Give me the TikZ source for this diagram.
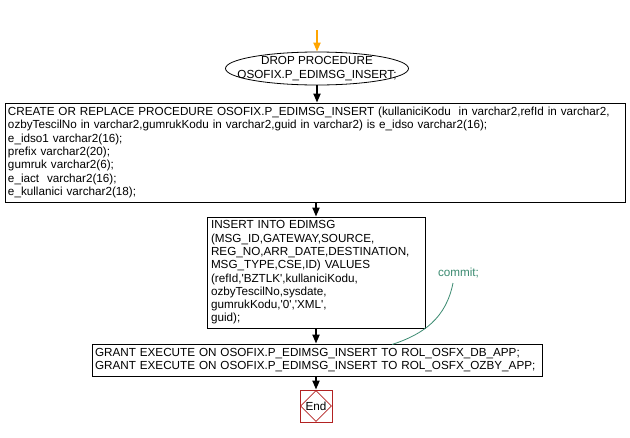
\documentclass[tikz,border=0pt]{standalone}
\usepackage{fontspec}
\newfontfamily\arialf{Liberation Sans}
\usetikzlibrary{arrows.meta,shapes.geometric}
\definecolor{commitc}{HTML}{3A8A70}
\definecolor{endred}{HTML}{B22222}
\definecolor{startor}{HTML}{FFA500}
\begin{document}
\begin{tikzpicture}[x=1pt,y=-1pt,
  every node/.style={font=\arialf\fontsize{11.7}{13.3}\selectfont},
  procbox/.style={draw=black,line width=0.8pt,rectangle,align=left,inner ysep=0pt},
  flow/.style={draw=black,line width=1.8pt,-{Triangle[width=7pt,length=9pt]}},
  startarrow/.style={draw=startor,line width=1.8pt,-{Triangle[width=7pt,length=9pt]}}]
\useasboundingbox (0,0) rectangle (630,437);
\coordinate (s) at (317,30);
\node[ellipse,draw=black,line width=0.8pt,minimum width=183pt,minimum height=33pt,inner sep=0pt] (drop) at (317,68.5) {};
\node[inner sep=0pt,align=center] (droptext) at (drop.center) {DROP PROCEDURE\\OSOFIX.P\_EDIMSG\_INSERT;};
\node[procbox,text width=614pt,inner xsep=3pt,minimum height=99pt] (create) at (315,152.5) {CREATE OR REPLACE PROCEDURE OSOFIX.P\_EDIMSG\_INSERT (kullaniciKodu\ \ in varchar2,refId in varchar2,\\
ozbyTescilNo in varchar2,gumrukKodu in varchar2,guid in varchar2) is e\_idso varchar2(16);\\
e\_idso1 varchar2(16);\\
prefix varchar2(20);\\
gumruk varchar2(6);\\
e\_iact\ \ varchar2(16);\\
e\_kullanici varchar2(18);};
\node[procbox,text width=210pt,inner xsep=4pt,minimum height=111pt] (insert) at (316,272.5) {INSERT INTO EDIMSG\\
(MSG\_ID,GATEWAY,SOURCE,\\
REG\_NO,ARR\_DATE,DESTINATION,\\
MSG\_TYPE,CSE,ID) VALUES\\
(refId,'BZTLK',kullaniciKodu,\\
ozbyTescilNo,sysdate,\\
gumrukKodu,'0','XML',\\
guid);};
\node[procbox,text width=444pt,inner xsep=3pt,minimum height=32pt] (grant) at (317,360) {GRANT EXECUTE ON OSOFIX.P\_EDIMSG\_INSERT TO ROL\_OSFX\_DB\_APP;\\
GRANT EXECUTE ON OSOFIX.P\_EDIMSG\_INSERT TO ROL\_OSFX\_OZBY\_APP;};
\node[draw=endred,line width=0.8pt,rectangle,minimum width=32pt,minimum height=32pt,inner sep=0pt] (endbox) at (316,406) {};
\node[draw=endred,line width=0.6pt,diamond,minimum width=31pt,minimum height=31pt,inner sep=0pt] (end) at (316,406) {End};
\node[text=commitc,inner sep=0pt] (commit) at (458.5,273) {commit;};
\coordinate (cstart) at (453,283);
\coordinate (cend) at (392,344.5);
\draw[startarrow] (s) -- (drop.north);
\draw[flow] (drop.south) -- (create.north -| drop.south);
\draw[flow] (create.south -| insert.north) -- (insert.north);
\draw[flow] (insert.south) -- (grant.north -| insert.south);
\draw[flow] (grant.south -| endbox.north) -- (endbox.north);
\draw[commitc,line width=0.8pt] (cstart) .. controls (446,318) and (424,334) .. (cend);
\end{tikzpicture}
\end{document}
